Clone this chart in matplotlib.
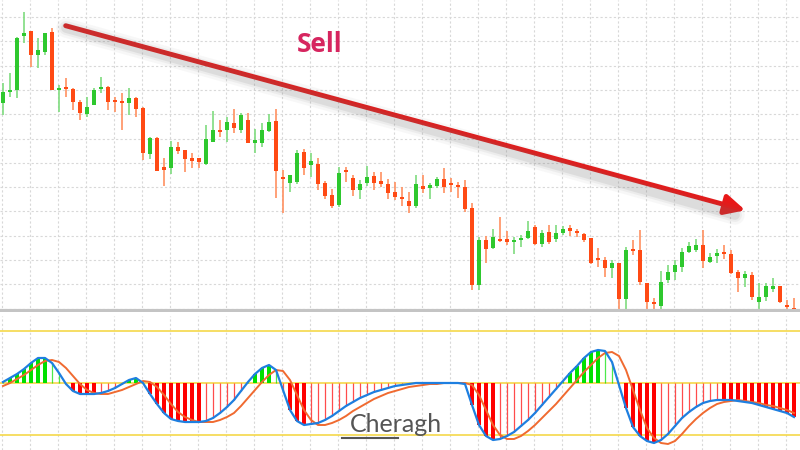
import matplotlib.pyplot as plt
import numpy as np

# candle prices, in chart pixel units (smaller = higher on the chart)
opens = [103, 90, 90, 36, 31, 55, 52, 32, 88, 87, 89, 102, 114, 105, 89, 87, 100, 101, 103, 98,
         108, 154, 138, 167, 168, 147, 150, 158, 158, 164, 142, 130, 130, 123, 130, 120, 143, 143, 131, 121,
         177, 183, 182, 152, 165, 164, 183, 195, 205, 170, 178, 190, 183, 176, 181, 184, 192, 197, 201, 206,
         186, 188, 186, 179, 183, 185, 187, 208, 285, 240, 248, 239, 239, 242, 240, 238, 227, 244, 232, 239,
         233, 228, 231, 234, 238, 258, 260, 268, 263, 299, 249, 250, 283, 302, 306, 280, 272, 267, 252, 250,
         245, 262, 256, 252, 254, 272, 278, 275, 302, 297, 289, 286, 305, 308]
closes = [92, 90, 38, 33, 55, 50, 33, 90, 88, 89, 102, 113, 107, 90, 87, 102, 101, 102, 98, 109,
          153, 138, 171, 170, 147, 151, 159, 161, 162, 139, 130, 132, 122, 128, 115, 143, 140, 130, 122, 171,
          178, 175, 153, 168, 161, 184, 196, 206, 173, 172, 190, 184, 177, 183, 184, 193, 197, 199, 206, 184,
          189, 185, 179, 187, 185, 186, 209, 285, 240, 249, 237, 241, 242, 240, 238, 231, 244, 233, 242, 233,
          229, 231, 233, 240, 263, 260, 268, 263, 299, 250, 250, 282, 302, 304, 282, 272, 265, 252, 246, 245,
          261, 257, 253, 254, 273, 278, 274, 297, 297, 286, 286, 302, 306, 310]
highs = [83, 73, 37, 12, 31, 38, 33, 28, 85, 78, 88, 100, 97, 88, 77, 86, 97, 93, 88, 97,
         107, 137, 137, 158, 141, 142, 150, 153, 158, 125, 111, 120, 117, 109, 113, 113, 129, 123, 114, 109,
         170, 175, 150, 149, 153, 158, 181, 189, 167, 167, 175, 180, 166, 172, 172, 179, 182, 187, 192, 175,
         175, 183, 177, 168, 178, 182, 180, 203, 237, 236, 229, 217, 231, 237, 235, 221, 225, 230, 225, 225,
         226, 225, 229, 233, 238, 248, 257, 260, 263, 247, 240, 230, 283, 298, 271, 265, 260, 248, 242, 239,
         230, 253, 249, 245, 250, 270, 271, 272, 283, 283, 278, 286, 300, 298]
lows = [115, 97, 98, 43, 67, 68, 55, 90, 112, 97, 110, 120, 117, 105, 93, 110, 112, 130, 115, 117,
        160, 159, 171, 186, 174, 154, 172, 168, 168, 165, 142, 137, 142, 133, 133, 143, 153, 147, 132, 198,
        213, 192, 184, 175, 177, 190, 199, 208, 207, 182, 196, 199, 186, 190, 187, 199, 200, 206, 213, 208,
        193, 199, 188, 193, 192, 198, 212, 290, 290, 263, 249, 242, 245, 254, 247, 239, 245, 247, 244, 242,
        235, 236, 237, 242, 264, 267, 277, 278, 310, 311, 255, 285, 311, 311, 311, 283, 280, 272, 253, 252,
        268, 263, 263, 259, 274, 292, 287, 300, 310, 301, 292, 303, 310, 311]

# MACD and signal lines, in pixels (zero line at 383)
macd_px = [382, 378, 374, 369, 363, 358, 358, 363, 373, 384, 391, 394, 394, 394, 393, 391, 388, 384, 380, 378,
           383, 394, 404, 413, 419, 421, 422, 422, 422, 421, 418, 413, 407, 400, 391, 382, 374, 368, 365, 370,
           390, 410, 421, 425, 424, 423, 420, 416, 411, 406, 402, 398, 395, 392, 390, 388, 386, 385, 384, 383,
           383, 383, 383, 383, 383, 383, 384, 405, 425, 436, 440, 439, 436, 432, 426, 420, 413, 405, 397, 389,
           381, 373, 366, 358, 352, 350, 351, 362, 385, 408, 427, 436, 441, 443, 440, 434, 426, 418, 412, 407,
           403, 401, 400, 400, 400, 401, 402, 403, 405, 407, 409, 411, 413, 417]
signal_px = [386, 383, 379, 375, 370, 365, 361, 360, 362, 368, 376, 384, 390, 393, 394, 394, 392, 390, 387, 384,
             381, 382, 387, 395, 404, 412, 417, 420, 422, 422, 422, 420, 417, 413, 406, 398, 390, 382, 375, 370,
             371, 380, 395, 410, 420, 425, 425, 423, 420, 416, 411, 407, 403, 399, 396, 393, 391, 389, 387, 386,
             385, 384, 384, 383, 383, 383, 383, 385, 395, 410, 425, 435, 439, 439, 436, 431, 425, 418, 411, 404,
             396, 388, 380, 372, 365, 358, 353, 352, 356, 370, 390, 410, 428, 438, 443, 444, 441, 434, 426, 419,
             413, 408, 404, 402, 401, 400, 401, 402, 403, 405, 406, 408, 410, 413]

macd = 383 - np.array(macd_px)
signal = 383 - np.array(signal_px)
n = len(closes)
idx = np.arange(n)

GREEN = '#2ec82e'
RED = '#ff4a14'

fig = plt.figure(figsize=(8, 4.5), dpi=100)
ax = fig.add_axes([0, 138 / 450, 1, 312 / 450])
ax2 = fig.add_axes([0, 0, 1, 134 / 450])

for a in (ax, ax2):
    a.set_xlim(-3 / 7, 797 / 7)
    for s in a.spines.values():
        s.set_visible(False)
    a.tick_params(left=False, bottom=False, labelleft=False, labelbottom=False)
    for gx in np.arange(-0.1, n, 4):
        a.axvline(gx, color='#d8d8d8', lw=0.8, ls=(0, (2, 2)), zorder=0)

# price panel
ax.set_ylim(312, 0)
for gy in np.arange(17, 312, 24.3):
    ax.axhline(gy, color='#d8d8d8', lw=0.8, ls=(0, (2, 2)), zorder=0)
for i in idx:
    up = closes[i] <= opens[i]
    col = GREEN if up else RED
    wick = '#7fdc7f' if up else '#ff9060'
    ax.vlines(i, highs[i], lows[i], color=wick, lw=1.2, zorder=2)
    lo, hi = sorted((opens[i], closes[i]))
    ax.bar(i, max(hi - lo, 1.5), bottom=lo, width=0.7, color=col, zorder=3)
ax.axhline(311, color='#c4c4c4', lw=3, zorder=4)

# trend arrow with soft shadow
for w, al in [(14, 0.05), (10, 0.08), (7, 0.12)]:
    fig.add_artist(plt.Line2D([66 / 800, 735 / 800], [1 - 28 / 450, 1 - 215 / 450],
                              transform=fig.transFigure, color='#707070', lw=w, alpha=al,
                              solid_capstyle='round'))
ax.annotate('', xy=(748 / 800, 1 - 211 / 450), xytext=(63 / 800, 1 - 25 / 450),
            xycoords='figure fraction', textcoords='figure fraction',
            arrowprops=dict(arrowstyle='-|>,head_length=1.2,head_width=0.6', color='#e81818', lw=3.5))
fig.text(320 / 800, 1 - 45 / 450, 'Sell', color='#d6255f', fontsize=19, fontweight='bold',
         family='Open Sans', ha='center', va='center')

# MACD panel
ax2.set_ylim(383 - 450, 383 - 316)
for lvl in (52, 0, -52):
    ax2.axhline(lvl, color='#f5d84a', lw=1.2, zorder=1)
prev = 0
for i in idx:
    v = macd[i]
    col = '#00e000' if v > 0 else '#ff0000'
    if abs(v) >= abs(prev) and abs(v) > 1:
        ax2.bar(i, v, width=0.7, color=col, zorder=2)
    else:
        ax2.vlines(i, 0, v, color=col, lw=0.9, alpha=0.7, zorder=2)
    prev = v
ax2.plot(idx, signal, color='#f06a30', lw=1.4, zorder=3)
ax2.plot(idx, macd, color='#1e7fe0', lw=1.6, zorder=4)

fig.text(396 / 800, 1 - 425 / 450, 'Cheragh', color='#555555', fontsize=18,
         family='Lato', ha='center', va='center', zorder=6)
fig.add_artist(plt.Line2D([342 / 800, 398 / 800], [1 - 438 / 450, 1 - 438 / 450],
                          transform=fig.transFigure, color='#555555', lw=1.5))

fig.savefig('out.png', dpi=100)
